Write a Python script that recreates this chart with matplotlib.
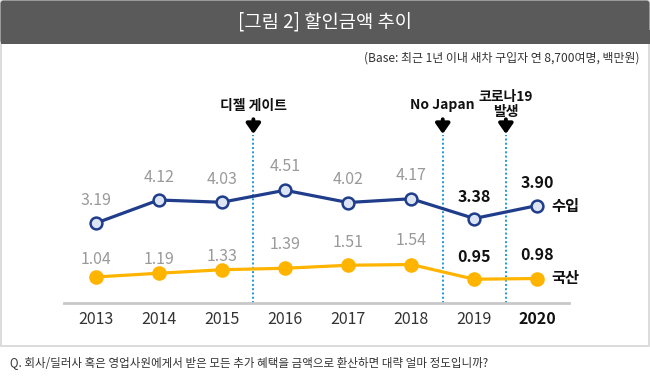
import numpy as np
import matplotlib
matplotlib.use('Agg')
import matplotlib.pyplot as plt
from matplotlib.patches import FancyBboxPatch, Rectangle

plt.rcParams['font.family'] = ['Noto Sans CJK KR', 'DejaVu Sans']

#------------------------------------------------------------------------------
# DATA
#------------------------------------------------------------------------------
years = ['2013', '2014', '2015', '2016', '2017', '2018', '2019', '2020']
imported = [3.19, 4.12, 4.03, 4.51, 4.02, 4.17, 3.38, 3.90]
domestic = [1.04, 1.19, 1.33, 1.39, 1.51, 1.54, 0.95, 0.98]
series_names = ['수입', '국산']

# events between years (x = position between two years)
event_x = [2.5, 5.5, 6.5]
event_labels = ['디젤 게이트', 'No Japan', '코로나19\n발생']

title = '[그림 2] 할인금액 추이'
base_note = '(Base: 최근 1년 이내 새차 구입자 연 8,700여명, 백만원)'
question = 'Q. 회사/딜러사 혹은 영업사원에게서 받은 모든 추가 혜택을 금액으로 환산하면 대략 얼마 정도입니까?'

#------------------------------------------------------------------------------
# FIGURE / FRAME
#------------------------------------------------------------------------------
W, H = 650, 389
fig = plt.figure(figsize=(W / 100, H / 100), dpi=100)

bg = fig.add_axes([0, 0, 1, 1])
bg.set_xlim(0, W)
bg.set_ylim(H, 0)
bg.axis('off')

# white box with light border
bg.add_patch(Rectangle((0.8, 0.5), W - 1.6, 345.5, facecolor='white',
                       edgecolor='#d9d9d9', lw=1.3))
# dark header
bg.add_patch(FancyBboxPatch((0.5, 0.5), W - 1, 43, boxstyle='round,pad=0,rounding_size=3',
                            facecolor='#5a5a5a', edgecolor='none'))
bg.add_patch(Rectangle((0.5, 30), W - 1, 14, facecolor='#5a5a5a', edgecolor='none'))

bg.text(W / 2, 22, title, color='white', fontsize=13.5, ha='center', va='center')
bg.text(639, 58, base_note, color='#333333', fontsize=8.6, ha='right', va='center')
bg.text(10, 363, question, color='#333333', fontsize=8.3, ha='left', va='center')

#------------------------------------------------------------------------------
# CHART
#------------------------------------------------------------------------------
ax = fig.add_axes([64 / W, 1 - 303 / H, 505 / W, 213 / H])
ax.patch.set_alpha(0)
ax.set_xlim(-0.5, 7.5)
ax.set_ylim(0, 213 / 25)

x = np.arange(len(years))

c_imp = '#1f3d8a'
c_dom = '#ffb400'

ax.plot(x, imported, color=c_imp, lw=2.3, marker='o', ms=8.5,
        mfc='#dde5f4', mec=c_imp, mew=1.8, zorder=4, clip_on=False)
ax.plot(x, domestic, color=c_dom, lw=2.3, marker='o', ms=9.5,
        mfc=c_dom, mec=c_dom, zorder=4, clip_on=False)

# value labels (last two years highlighted)
imp_dy = [23, 23, 23, 24, 23, 23, 22, 22]
dom_dy = [17, 14, 13, 24, 23, 24, 22, 23]
for i in range(len(years)):
    hl = i >= 6
    col = '#111111' if hl else '#9a9a9a'
    fw = 'bold' if hl else 'normal'
    ax.annotate(f'{imported[i]:.2f}', (x[i], imported[i]), xytext=(0, imp_dy[i] * 0.72),
                textcoords='offset points', ha='center', va='center',
                fontsize=11.5, color=col, fontweight=fw)
    ax.annotate(f'{domestic[i]:.2f}', (x[i], domestic[i]), xytext=(0, dom_dy[i] * 0.72),
                textcoords='offset points', ha='center', va='center',
                fontsize=11.5, color=col, fontweight=fw)

# series names at line ends
ax.annotate(series_names[0], (x[-1], imported[-1]), xytext=(10, 0), textcoords='offset points',
            ha='left', va='center', fontsize=11, fontweight='bold', color='#111111')
ax.annotate(series_names[1], (x[-1], domestic[-1]), xytext=(10, 0), textcoords='offset points',
            ha='left', va='center', fontsize=11, fontweight='bold', color='#111111')

# event markers
for ex, lab in zip(event_x, event_labels):
    ax.plot([ex, ex], [0, 6.72], color='#1e9ad6', lw=1.4, ls=(0, (1, 1.2)), zorder=2)
    ax.annotate('', xy=(ex, 6.76), xytext=(ex, 7.35),
                arrowprops=dict(arrowstyle='-|>,head_length=0.5,head_width=0.35',
                                color='black', lw=2.8, mutation_scale=12,
                                shrinkA=0, shrinkB=0))
    ax.text(ex, 7.9 if '\n' not in lab else 7.95, lab, ha='center', va='center',
            fontsize=10, fontweight='bold', color='#111111', linespacing=1.05)

# axis
for s in ['top', 'right', 'left']:
    ax.spines[s].set_visible(False)
ax.spines['bottom'].set_color('#c8c8c8')
ax.spines['bottom'].set_linewidth(2)
ax.set_yticks([])
ax.set_xticks(x)
ax.set_xticklabels(years, fontsize=11.5, color='#333333')
ax.tick_params(axis='x', length=0, pad=6)
ax.get_xticklabels()[-1].set_fontweight('bold')
ax.get_xticklabels()[-1].set_color('#111111')

fig.savefig('out.png', dpi=100)
